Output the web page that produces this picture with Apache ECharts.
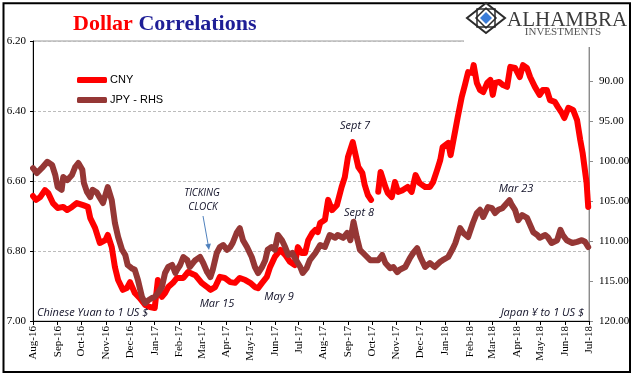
<!DOCTYPE html>
<html><head><meta charset="utf-8">
<script src="https://cdn.jsdelivr.net/npm/echarts@6/dist/echarts.min.js"></script>
<style>html,body{margin:0;padding:0;background:#fff}#c{width:641px;height:381px}</style>
</head><body><div id="c"></div>
<script>
const monthLabels = ['Aug-16','Sep-16','Oct-16','Nov-16','Dec-16','Jan-17','Feb-17','Mar-17','Apr-17','May-17','Jun-17','Jul-17','Aug-17','Sep-17','Oct-17','Nov-17','Dec-17','Jan-18','Feb-18','Mar-18','Apr-18','May-18','Jun-18','Jul-18'];

const cnyDates = ['2016-08-01','2016-08-05','2016-08-10','2016-08-16','2016-08-20','2016-08-26','2016-09-01','2016-09-08','2016-09-13','2016-09-19','2016-09-25','2016-10-03','2016-10-09','2016-10-12','2016-10-18','2016-10-24','2016-10-31','2016-11-03','2016-11-08','2016-11-12','2016-11-16','2016-11-22','2016-11-27','2016-12-01','2016-12-07','2016-12-13','2016-12-20','2016-12-26','2017-01-01','2017-01-05','2017-01-10','2017-01-14','2017-01-18','2017-01-24','2017-01-29','2017-02-06','2017-02-12','2017-02-21','2017-03-01','2017-03-08','2017-03-12','2017-03-18','2017-03-24','2017-03-30','2017-04-06','2017-04-12','2017-04-18','2017-04-25','2017-05-01','2017-05-07','2017-05-11','2017-05-16','2017-05-22','2017-05-26','2017-06-01','2017-06-08','2017-06-14','2017-06-20','2017-06-26','2017-06-30','2017-07-05','2017-07-09','2017-07-13','2017-07-18','2017-07-22','2017-07-25','2017-07-28','2017-08-03','2017-08-07','2017-08-12','2017-08-18','2017-08-24','2017-08-28','2017-09-01','2017-09-07','2017-09-10','2017-09-14','2017-09-19','2017-09-22','2017-09-26','2017-09-30','2017-10-04','2017-10-09','2017-10-12','2017-10-18','2017-10-21','2017-10-26','2017-10-30','2017-11-03','2017-11-09','2017-11-15','2017-11-20','2017-11-25','2017-11-30','2017-12-07','2017-12-13','2017-12-17','2017-12-22','2017-12-26','2017-12-29','2018-01-05','2018-01-08','2018-01-14','2018-01-17','2018-01-22','2018-01-26','2018-01-30','2018-02-04','2018-02-06','2018-02-10','2018-02-14','2018-02-18','2018-02-23','2018-02-27','2018-03-02','2018-03-05','2018-03-10','2018-03-15','2018-03-20','2018-03-24','2018-03-30','2018-04-05','2018-04-09','2018-04-14','2018-04-18','2018-04-24','2018-04-30','2018-05-04','2018-05-09','2018-05-13','2018-05-19','2018-05-23','2018-05-28','2018-05-31','2018-06-05','2018-06-11','2018-06-16','2018-06-20','2018-06-23','2018-06-28','2018-06-30'];
const cnyValues = [6.643,6.654,6.646,6.626,6.634,6.663,6.677,6.674,6.683,6.674,6.663,6.669,6.674,6.706,6.734,6.777,6.769,6.754,6.789,6.846,6.883,6.911,6.906,6.889,6.920,6.934,6.954,6.960,6.963,6.883,6.931,6.920,6.903,6.891,6.877,6.877,6.860,6.869,6.891,6.903,6.911,6.903,6.874,6.877,6.889,6.891,6.877,6.883,6.891,6.903,6.906,6.891,6.874,6.846,6.817,6.797,6.811,6.831,6.840,6.789,6.806,6.806,6.769,6.749,6.740,6.746,6.720,6.711,6.654,6.683,6.669,6.617,6.589,6.531,6.489,6.520,6.560,6.577,6.611,6.640,6.654,null,6.631,6.574,6.617,6.634,6.646,6.603,6.631,6.626,6.617,6.631,6.583,6.606,6.617,6.617,6.603,6.569,6.540,6.503,6.491,6.526,6.454,6.417,6.360,6.326,6.289,6.291,6.269,6.320,6.340,6.346,6.320,6.311,6.354,6.320,6.317,6.326,6.331,6.274,6.277,6.303,6.269,6.277,6.303,6.331,6.354,6.340,6.340,6.369,6.374,6.389,6.406,6.420,6.391,6.397,6.426,6.483,6.520,6.606,6.674];

const jpyDates = ['2016-08-01','2016-08-06','2016-08-12','2016-08-19','2016-08-25','2016-08-29','2016-09-01','2016-09-06','2016-09-08','2016-09-13','2016-09-19','2016-09-23','2016-09-27','2016-10-02','2016-10-04','2016-10-08','2016-10-12','2016-10-15','2016-10-20','2016-10-24','2016-10-28','2016-11-03','2016-11-08','2016-11-12','2016-11-16','2016-11-21','2016-11-25','2016-11-28','2016-12-03','2016-12-07','2016-12-11','2016-12-16','2016-12-20','2016-12-24','2016-12-29','2017-01-01','2017-01-05','2017-01-10','2017-01-14','2017-01-18','2017-01-23','2017-01-27','2017-01-29','2017-02-02','2017-02-06','2017-02-11','2017-02-14','2017-02-21','2017-02-27','2017-03-03','2017-03-08','2017-03-12','2017-03-15','2017-03-20','2017-03-24','2017-03-28','2017-04-02','2017-04-06','2017-04-09','2017-04-14','2017-04-18','2017-04-22','2017-04-27','2017-05-03','2017-05-07','2017-05-11','2017-05-16','2017-05-20','2017-05-23','2017-05-28','2017-06-01','2017-06-05','2017-06-10','2017-06-14','2017-06-18','2017-06-23','2017-06-26','2017-07-03','2017-07-06','2017-07-11','2017-07-15','2017-07-22','2017-07-28','2017-08-03','2017-08-09','2017-08-16','2017-08-19','2017-08-26','2017-08-31','2017-09-04','2017-09-08','2017-09-12','2017-09-16','2017-09-20','2017-09-25','2017-09-29','2017-10-02','2017-10-09','2017-10-14','2017-10-18','2017-10-24','2017-10-28','2017-11-02','2017-11-05','2017-11-12','2017-11-18','2017-11-22','2017-11-27','2017-12-01','2017-12-07','2017-12-13','2017-12-19','2017-12-26','2017-12-29','2018-01-05','2018-01-11','2018-01-14','2018-01-20','2018-01-24','2018-01-30','2018-02-05','2018-02-10','2018-02-14','2018-02-18','2018-02-24','2018-03-01','2018-03-05','2018-03-09','2018-03-14','2018-03-23','2018-03-26','2018-03-30','2018-04-03','2018-04-08','2018-04-14','2018-04-18','2018-04-22','2018-04-27','2018-04-30','2018-05-07','2018-05-10','2018-05-15','2018-05-22','2018-05-26','2018-05-29','2018-06-03','2018-06-10','2018-06-16','2018-06-22','2018-06-26','2018-06-30'];
const jpyValues = [100.9,101.5,100.9,100.1,100.5,101.75,103.25,103.6,102.0,102.4,101.75,100.75,100.25,101.1,102.75,103.9,104.5,103.6,103.9,104.6,105.25,103.25,104.9,107.75,109.5,111.1,111.75,113.0,113.4,113.6,114.9,117.0,117.75,117.4,117.1,117.0,116.5,115.75,114.0,113.25,113.0,114.0,113.6,113.0,112.0,112.4,113.25,112.4,112.0,112.75,113.9,114.5,113.6,111.5,110.75,110.5,111.1,110.75,110.25,109.0,108.4,109.9,110.75,112.0,113.25,114.0,113.25,112.4,111.1,110.75,111.1,109.25,109.9,110.75,111.75,111.5,112.1,113.25,114.0,113.4,112.4,111.5,110.5,110.75,109.25,109.6,109.25,109.6,109.0,109.9,107.6,109.5,111.1,111.5,112.0,112.4,112.4,112.4,111.75,112.75,113.4,113.25,113.9,113.6,113.25,112.1,111.5,110.9,112.0,113.25,112.75,113.25,112.6,112.4,112.0,110.9,110.25,108.4,109.0,109.5,107.75,106.5,106.1,107.0,105.75,105.9,106.5,106.1,105.9,104.9,105.5,106.1,107.4,106.75,107.1,108.0,108.9,109.25,109.6,109.25,109.5,110.25,109.9,108.6,109.25,109.9,110.25,110.1,109.9,110.1,110.75];

const leftMin = 6.2, leftMax = 7.0, leftStep = 0.2;
const rightMin = 85, rightMax = 120, rightStep = 5;

const DAY = 86400000;
const T0 = Date.UTC(2016, 7, 1);
function toDay(s) { const p = s.split('-').map(Number); return (Date.UTC(p[0], p[1]-1, p[2]) - T0) / DAY; }
const MON = ['Jan','Feb','Mar','Apr','May','Jun','Jul','Aug','Sep','Oct','Nov','Dec'];
const monthDays = monthLabels.map(l => { const [m, y] = l.split('-'); return (Date.UTC(2000 + Number(y), MON.indexOf(m), 1) - T0) / DAY; });

const cnyData = cnyDates.map((d, i) => [toDay(d), cnyValues[i] == null ? '-' : cnyValues[i]]);
const jpyData = jpyDates.map((d, i) => [toDay(d), jpyValues[i]]);

const serif = 'Liberation Serif';
const annFont = 'italic 11px "Open Sans"';
const annColor = '#111128';

const chart = echarts.init(document.getElementById('c'), null, {renderer: 'canvas'});
chart.setOption({
  animation: false,
  backgroundColor: '#fff',
  title: {
    left: 68, top: 8,
    text: '{a|Dollar} {b|Correlations}',
    textStyle: {
      fontFamily: serif, fontSize: 22,
      rich: {
        a: {fontFamily: serif, fontSize: 22, fontWeight: 'bold', color: '#FF0000'},
        b: {fontFamily: serif, fontSize: 22, color: '#1E1E96'}
      }
    }
  },
  legend: {
    orient: 'vertical', left: 72, top: 68,
    itemWidth: 30, itemHeight: 6, itemGap: 6, icon: 'roundRect',
    textStyle: {fontFamily: 'Liberation Sans', fontSize: 11, color: '#000', lineHeight: 14, padding: [0, 0, 0, -2]},
    data: ['CNY', 'JPY - RHS']
  },
  grid: {left: 33, right: 52, top: 41, bottom: 60, show: true, borderColor: '#9a9a9a', borderWidth: 1},
  xAxis: {
    type: 'value', min: 0, max: monthDays[monthDays.length - 1],
    axisLine: {lineStyle: {color: '#000', width: 1}},
    axisTick: {show: true, customValues: monthDays, length: 4, lineStyle: {color: '#000'}},
    axisLabel: {
      customValues: monthDays, rotate: 90, margin: 5,
      fontFamily: serif, fontSize: 11, color: '#000',
      formatter: v => { const i = monthDays.indexOf(Math.round(v)); return i >= 0 ? monthLabels[i] : ''; }
    },
    splitLine: {show: false}
  },
  yAxis: [{
    type: 'value', inverse: true, min: leftMin, max: leftMax, interval: leftStep, position: 'left',
    axisLine: {show: true, lineStyle: {color: '#000'}},
    axisTick: {show: true, length: 3, lineStyle: {color: '#000'}},
    axisLabel: {fontFamily: serif, fontSize: 11, color: '#000', margin: 7, formatter: v => v.toFixed(2)},
    splitLine: {show: true, lineStyle: {color: '#bcbcbc', type: [3, 2], width: 1}}
  }, {
    type: 'value', inverse: true, min: rightMin, max: rightMax, interval: rightStep, position: 'right',
    axisLine: {show: true, lineStyle: {color: '#8c8c8c'}},
    axisTick: {show: true, length: 4, lineStyle: {color: '#8c8c8c'}},
    axisLabel: {fontFamily: serif, fontSize: 11, color: '#000', margin: 10, showMinLabel: false, formatter: v => v.toFixed(2)},
    splitLine: {show: false}
  }],
  series: [{
    name: 'CNY', type: 'line', yAxisIndex: 0, data: cnyData, showSymbol: false, connectNulls: false, z: 2,
    itemStyle: {color: '#FF0000'},
    lineStyle: {color: '#FF0000', width: 6, cap: 'round', join: 'round'}
  }, {
    name: 'JPY - RHS', type: 'line', yAxisIndex: 1, data: jpyData, showSymbol: false, z: 3,
    itemStyle: {color: '#953735'},
    lineStyle: {color: '#953735', width: 6, cap: 'round', join: 'round'}
  }],
  graphic: [
    {type: 'rect', z: 100, shape: {x: 3.5, y: 3.3, width: 626.5, height: 368.7}, style: {fill: 'none', stroke: '#000', lineWidth: 2}},
    {type: 'rect', z: 101, shape: {x: 464, y: 5, width: 165, height: 42}, style: {fill: '#fff'}},
    {type: 'polygon', z: 102, shape: {points: [[486, 3], [505, 18], [486, 33], [467, 18]]}, style: {fill: '#fff', stroke: '#2b2b2b', lineWidth: 2}},
    {type: 'rect', z: 102, shape: {x: 477, y: 9, width: 18, height: 18}, style: {fill: 'none', stroke: '#2b2b2b', lineWidth: 1.5}},
    {type: 'polygon', z: 102, shape: {points: [[486, 8], [496, 18], [486, 28], [476, 18]]}, style: {fill: 'none', stroke: '#2b2b2b', lineWidth: 1.5}},
    {type: 'polygon', z: 103, shape: {points: [[486, 12], [492, 18], [486, 24], [480, 18]]}, style: {fill: '#3b7dd8'}},
    {type: 'text', z: 103, style: {text: 'ALHAMBRA', x: 507, y: 20, font: '21px "Liberation Serif"', fill: '#3a3a3a', textAlign: 'left', textVerticalAlign: 'middle'}},
    {type: 'text', z: 103, style: {text: 'INVESTMENTS', x: 563, y: 32.5, font: '11px "Liberation Serif"', fill: '#555', textAlign: 'center', textVerticalAlign: 'middle'}},
    {type: 'text', z: 50, style: {text: 'Chinese Yuan to 1 US $', x: 37, y: 313, font: annFont, fill: annColor, textAlign: 'left', textVerticalAlign: 'middle'}},
    {type: 'text', z: 50, style: {text: 'Japan ¥ to 1 US $', x: 584, y: 313, font: annFont, fill: annColor, textAlign: 'right', textVerticalAlign: 'middle'}},
    {type: 'text', z: 50, style: {text: 'TICKING', x: 202, y: 193, font: 'italic 10px "Open Sans"', fill: annColor, textAlign: 'center', textVerticalAlign: 'middle'}},
    {type: 'text', z: 50, style: {text: 'CLOCK', x: 203, y: 207, font: 'italic 10px "Open Sans"', fill: annColor, textAlign: 'center', textVerticalAlign: 'middle'}},
    {type: 'line', z: 50, shape: {x1: 203, y1: 216, x2: 208.4, y2: 246}, style: {stroke: '#4F81BD', lineWidth: 1}},
    {type: 'polygon', z: 50, shape: {points: [[209, 250], [210.9, 243.6], [205.3, 244.6]]}, style: {fill: '#4F81BD'}},
    {type: 'text', z: 50, style: {text: 'Mar 15', x: 217, y: 304, font: annFont, fill: annColor, textAlign: 'center', textVerticalAlign: 'middle'}},
    {type: 'text', z: 50, style: {text: 'May 9', x: 279, y: 297, font: annFont, fill: annColor, textAlign: 'center', textVerticalAlign: 'middle'}},
    {type: 'text', z: 50, style: {text: 'Sept 7', x: 355, y: 126, font: annFont, fill: annColor, textAlign: 'center', textVerticalAlign: 'middle'}},
    {type: 'text', z: 50, style: {text: 'Sept 8', x: 359, y: 213, font: annFont, fill: annColor, textAlign: 'center', textVerticalAlign: 'middle'}},
    {type: 'text', z: 50, style: {text: 'Mar 23', x: 516, y: 189, font: annFont, fill: annColor, textAlign: 'center', textVerticalAlign: 'middle'}}
  ]
});
</script>
</body></html>
